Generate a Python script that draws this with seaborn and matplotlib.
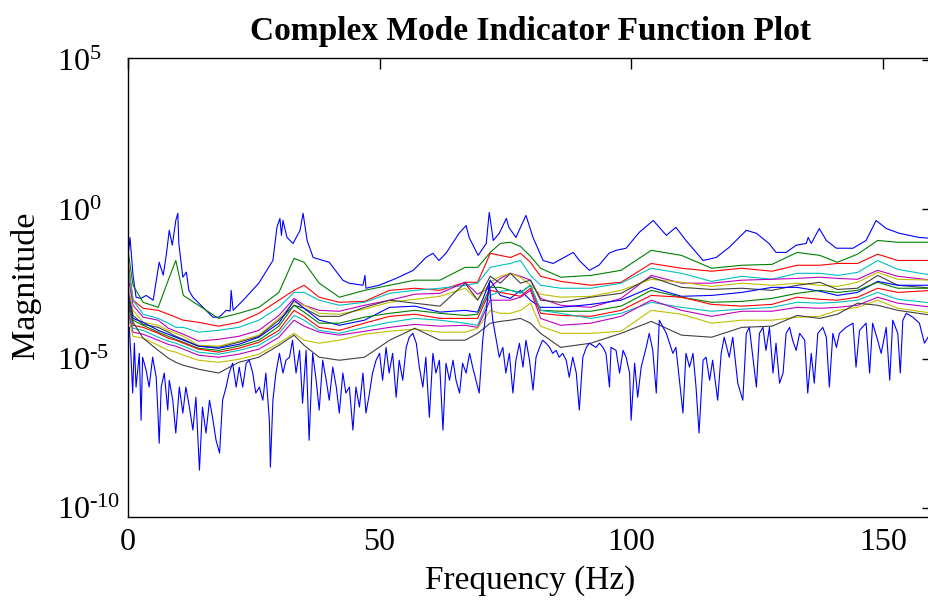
import numpy as np
import pandas as pd
import matplotlib
matplotlib.use("Agg")
import matplotlib.pyplot as plt
import seaborn as sns

# ---------------- data (frequency in Hz, magnitude as log10 exponent) ----------------
title = "Complex Mode Indicator Function Plot"
x_label = "Frequency (Hz)"
y_label = "Magnitude"
x_ticks = [0, 50, 100, 150]
y_tick_exponents = [-10, -5, 0, 5]

# first (largest) singular value
sv01_freq = [0.0, 0.4, 1.0, 1.6, 2.6, 3.6, 5.0, 6.2, 7.0, 7.6, 8.2, 8.8, 9.5, 9.9, 10.1, 10.9, 11.6, 12.1,
             12.9, 14.9, 16.9, 18.1, 19.5, 20.3, 20.5, 20.9, 22.9, 26.0, 28.8, 29.6, 30.2, 30.5, 30.8, 31.6,
             32.8, 34.2, 34.8, 35.6, 36.8, 40.0, 42.7, 43.9, 46.7, 47.1, 47.3, 49.9, 53.3, 56.7, 59.2, 60.6,
             61.8, 63.2, 65.8, 67.2, 67.8, 69.6, 71.2, 71.8, 72.6, 73.8, 75.2, 75.7, 77.1, 79.1, 80.5, 82.5,
             84.5, 88.5, 89.7, 91.7, 93.6, 95.6, 97.0, 99.0, 101.6, 104.4, 107.0, 108.9, 110.9, 114.3, 116.9,
             119.5, 122.9, 124.9, 127.4, 128.8, 130.8, 132.8, 134.8, 135.2, 135.8, 137.4, 138.8, 140.8, 144.1,
             146.7, 148.7, 150.7, 153.3, 157.3, 160.0]
sv01 = [-1.6, -0.94, -2.2, -2.94, -2.98, -2.88, -3.04, -1.77, -2.2, -1.54, -0.70, -1.2, -0.37, -0.13, -1.14,
        -2.27, -2.1, -2.71, -2.94, -3.28, -3.61, -3.61, -3.38, -3.4, -2.71, -3.38, -3.04, -2.47, -1.71, -0.6,
        -0.3, -0.87, -0.37, -0.94, -1.14, -0.70, -0.13, -1.04, -1.61, -1.77, -2.37, -2.47, -2.54, -2.21, -2.64,
        -2.54, -2.31, -2.04, -1.61, -1.47, -1.71, -1.47, -0.80, -0.54, -0.94, -1.54, -1.14, -0.10, -1.04, -0.80,
        -0.30, -0.6, -0.94, -0.20, -0.94, -1.71, -1.81, -1.44, -1.71, -2.04, -1.87, -1.47, -1.37, -1.30, -0.77,
        -0.37, -0.87, -0.60, -1.04, -1.71, -1.61, -1.27, -0.70, -0.80, -1.14, -1.44, -1.44, -1.20, -1.14, -0.94,
        -1.14, -0.64, -1.04, -1.30, -1.30, -1.04, -0.37, -0.64, -0.80, -0.94, -0.97]

# singular values 2..14 sampled on a shared frequency grid
freq_grid = [0, 1, 3, 6, 8, 9.5, 11, 14, 18, 22, 26, 30, 33, 35, 38, 42, 47, 52, 57, 62, 67, 69.5, 72, 74,
             76, 78, 80, 82, 86, 92, 98, 104, 110, 116, 122, 128, 133, 137.5, 141, 145, 149, 153, 160]
sv02 = [-1.37, -2.54, -3.11, -3.28, -2.37, -1.71, -2.88, -3.21, -3.65, -3.48, -3.28, -2.78, -1.64, -1.77, -2.47,
        -2.94, -2.71, -2.54, -2.37, -2.37, -1.94, -1.94, -1.44, -1.14, -1.10, -1.24, -1.57, -1.97, -2.27, -2.21,
        -2.04, -1.37, -1.54, -1.97, -1.87, -1.84, -1.44, -1.54, -1.77, -1.50, -1.04, -1.10, -1.10]
sv03 = [-1.71, -3.04, -3.31, -3.38, -3.51, -3.61, -3.71, -3.78, -3.91, -3.78, -3.48, -3.04, -2.71, -2.54, -2.94,
        -3.11, -3.08, -2.71, -2.64, -2.71, -2.44, -2.44, -1.47, -1.54, -1.61, -1.47, -1.77, -2.24, -2.41, -2.54,
        -2.44, -1.81, -1.97, -2.07, -1.97, -2.07, -1.87, -1.87, -1.81, -1.81, -1.50, -1.71, -1.71]
sv04 = [-1.87, -3.04, -3.51, -3.65, -3.81, -3.95, -3.95, -4.11, -4.05, -3.95, -3.71, -3.28, -2.78, -2.78, -3.04,
        -3.21, -3.11, -2.81, -2.71, -2.64, -2.54, -2.47, -1.94, -1.87, -1.81, -1.71, -2.21, -2.54, -2.64, -2.64,
        -2.47, -1.97, -2.14, -2.41, -2.24, -2.34, -2.14, -2.14, -2.21, -2.11, -1.71, -2.01, -2.21]
sv05 = [-2.21, -3.21, -3.61, -3.71, -3.98, -4.08, -4.18, -4.41, -4.35, -4.25, -4.05, -3.55, -2.98, -3.21, -3.38,
        -3.41, -3.21, -3.04, -2.84, -2.81, -2.44, -2.84, -2.61, -2.31, -2.14, -2.24, -2.37, -2.98, -3.21, -3.28,
        -2.98, -2.21, -2.47, -2.47, -2.37, -2.34, -2.31, -2.27, -2.31, -2.34, -2.04, -2.24, -2.37]
sv06 = [-2.54, -3.38, -3.78, -3.88, -4.05, -4.15, -4.25, -4.55, -4.58, -4.41, -4.21, -3.65, -3.11, -3.21, -3.48,
        -3.51, -3.34, -3.11, -3.01, -2.91, -2.64, -3.04, -2.44, -2.24, -2.14, -2.27, -2.54, -2.84, -2.94, -2.91,
        -2.71, -2.34, -2.44, -2.58, -2.47, -2.54, -2.47, -2.54, -2.58, -2.44, -2.11, -2.34, -2.37]
sv07 = [-2.71, -3.55, -3.85, -3.95, -4.11, -4.25, -4.35, -4.58, -4.62, -4.45, -4.25, -3.71, -3.21, -3.31, -3.58,
        -3.58, -3.28, -3.04, -3.14, -3.24, -2.47, -3.04, -2.24, -2.47, -2.14, -2.47, -2.37, -3.04, -3.11, -2.94,
        -2.81, -2.27, -2.61, -2.68, -2.64, -2.71, -2.54, -2.44, -2.68, -2.64, -2.21, -2.54, -2.64]
sv08 = [-2.88, -3.65, -3.78, -4.05, -4.18, -4.28, -4.38, -4.58, -4.65, -4.52, -4.28, -3.81, -3.04, -3.31, -3.71,
        -3.88, -3.71, -3.28, -3.24, -3.44, -3.38, -3.44, -2.37, -2.88, -2.98, -2.71, -3.04, -3.28, -3.28, -3.18,
        -3.04, -2.61, -2.91, -2.88, -2.78, -2.61, -2.61, -2.74, -2.88, -2.78, -2.41, -2.54, -2.54]
sv09 = [-3.04, -3.71, -3.88, -4.11, -4.25, -4.35, -4.45, -4.65, -4.72, -4.58, -4.38, -3.91, -3.21, -3.44, -3.81,
        -3.81, -3.61, -3.48, -3.38, -3.48, -3.55, -3.51, -2.61, -2.61, -2.71, -2.78, -2.54, -3.38, -3.41, -3.41,
        -3.24, -2.71, -2.94, -3.11, -3.08, -2.98, -2.81, -2.71, -2.78, -2.71, -2.44, -2.64, -2.64]
sv10 = [-3.21, -3.88, -3.95, -4.15, -4.31, -4.38, -4.48, -4.68, -4.78, -4.65, -4.45, -4.05, -3.38, -3.58, -3.95,
        -4.05, -3.81, -3.58, -3.51, -3.65, -3.65, -3.65, -2.71, -2.78, -2.84, -2.91, -2.64, -3.48, -3.55, -3.58,
        -3.38, -2.88, -2.94, -3.18, -3.24, -3.18, -2.94, -3.01, -3.04, -2.94, -2.64, -2.78, -2.71]
sv11 = [-3.31, -3.98, -4.05, -4.28, -4.41, -4.48, -4.58, -4.78, -4.85, -4.72, -4.55, -4.15, -3.55, -3.71, -4.05,
        -4.15, -3.95, -3.78, -3.65, -3.71, -3.81, -3.88, -2.88, -2.74, -2.71, -2.81, -2.54, -3.38, -3.48, -3.65,
        -3.48, -3.11, -3.28, -3.41, -3.34, -3.28, -3.11, -3.14, -3.11, -3.04, -2.78, -3.01, -3.14]
sv12 = [-3.44, -4.11, -4.18, -4.38, -4.52, -4.58, -4.68, -4.88, -4.95, -4.85, -4.68, -4.28, -3.71, -3.91, -4.11,
        -4.21, -4.08, -3.95, -3.85, -3.91, -3.88, -3.95, -3.04, -3.04, -3.04, -2.94, -2.71, -3.65, -3.88, -3.81,
        -3.58, -3.04, -3.38, -3.58, -3.41, -3.41, -3.28, -3.31, -3.28, -3.21, -2.94, -3.14, -3.28]
sv13 = [-3.58, -4.25, -4.31, -4.55, -4.72, -4.78, -4.88, -5.05, -5.12, -5.02, -4.85, -4.48, -4.15, -4.38, -4.48,
        -4.38, -4.18, -4.08, -4.01, -4.11, -4.11, -3.98, -3.38, -3.48, -3.48, -3.38, -3.14, -3.91, -4.15, -4.15,
        -4.08, -3.38, -3.51, -3.81, -3.71, -3.71, -3.61, -3.58, -3.38, -3.28, -3.04, -3.31, -3.48]
sv14 = [-3.04, -3.78, -4.31, -4.72, -4.98, -5.12, -5.22, -5.35, -5.48, -5.12, -4.95, -4.55, -4.21, -4.55, -4.95,
        -5.05, -4.95, -4.38, -3.98, -4.38, -4.38, -4.15, -3.81, -3.75, -3.71, -3.65, -3.81, -4.15, -4.62, -4.48,
        -4.15, -3.75, -4.21, -4.28, -3.95, -3.91, -3.55, -3.65, -3.51, -3.14, -3.21, -3.38, -3.55]

# smallest singular value (noisy)
sv15_freq = [0.26, 0.6, 0.93, 1.26, 1.6, 2.25, 2.6, 2.9, 3.6, 4.2, 4.9, 5.6, 5.9, 6.2, 6.6, 7.2, 7.9, 8.2, 8.9,
             9.5, 10.2, 10.9, 11.5, 12.2, 12.9, 13.5, 14.2, 14.8, 15.5, 16.2, 16.8, 17.5, 18.2, 18.8, 19.5, 20.1,
             20.8, 21.5, 22.1, 22.8, 23.5, 24.1, 24.8, 25.4, 26.1, 26.8, 27.4, 28.1, 28.3, 28.8, 29.4, 30.1, 30.8,
             31.4, 32.1, 32.7, 33.4, 34.1, 34.7, 35.4, 36.0, 36.7, 37.4, 38.0, 38.7, 39.4, 40.0, 40.7, 41.4, 42.0,
             42.7, 43.3, 44.0, 44.7, 45.3, 46.0, 46.7, 47.3, 48.0, 48.6, 49.3, 50.0, 50.6, 51.3, 51.9, 52.6, 53.3,
             53.9, 54.6, 55.3, 55.9, 56.6, 57.3, 57.9, 58.6, 59.2, 59.9, 60.6, 61.2, 61.9, 62.6, 63.2, 63.9, 64.6,
             65.2, 65.9, 66.5, 67.2, 67.9, 68.5, 69.8, 70.5, 71.2, 71.8, 72.5, 73.2, 73.8, 74.5, 75.1, 75.8, 76.5,
             77.1, 77.8, 78.5, 79.1, 79.8, 80.5, 81.1, 81.8, 82.4, 83.1, 83.8, 84.4, 85.1, 85.7, 86.4, 87.1, 87.7,
             88.4, 89.1, 89.7, 90.4, 91.1, 91.7, 93.0, 93.7, 94.4, 95.0, 95.7, 96.0, 97.0, 97.7, 98.4, 99.0, 99.7,
             100.0, 100.7, 101.3, 102.0, 103.0, 103.6, 104.3, 105.0, 105.6, 107.0, 108.3, 108.9, 110.3, 110.9,
             111.6, 112.3, 112.9, 113.5, 114.3, 114.9, 115.6, 116.2, 117.2, 117.9, 118.5, 119.5, 120.2, 121.2,
             122.2, 122.9, 123.5, 124.2, 124.9, 125.5, 126.2, 126.8, 127.5, 128.2, 128.8, 129.5, 130.2, 130.8,
             131.5, 132.1, 132.8, 133.5, 134.5, 135.1, 135.8, 136.4, 137.1, 138.1, 138.8, 139.4, 140.1, 140.8,
             141.4, 142.7, 144.1, 144.7, 145.4, 146.7, 147.4, 148.0, 149.0, 149.7, 150.7, 151.4, 152.0, 153.0,
             153.5, 154.0, 154.7, 156.0, 157.3, 158.3, 159.0, 160.0]
sv15 = [-3.95, -4.95, -6.15, -4.48, -5.95, -4.82, -7.06, -4.95, -5.38, -5.95, -4.95, -5.62, -6.62, -7.83, -5.95,
        -5.48, -6.72, -5.72, -6.39, -7.49, -5.95, -6.82, -5.95, -6.62, -7.39, -6.29, -8.73, -6.62, -7.49, -6.39,
        -6.96, -7.73, -8.16, -6.39, -5.95, -5.48, -5.15, -5.95, -5.28, -5.95, -5.15, -5.05, -5.48, -6.15, -5.95,
        -6.39, -5.48, -7.06, -8.63, -6.39, -5.48, -4.82, -5.48, -5.05, -4.95, -4.38, -5.48, -4.72, -6.49, -4.72,
        -7.73, -4.82, -5.72, -6.72, -5.05, -5.72, -6.39, -5.28, -5.95, -6.82, -5.48, -6.15, -5.95, -7.39, -5.95,
        -6.62, -5.48, -6.82, -6.15, -5.48, -5.05, -4.82, -5.72, -4.62, -5.48, -4.82, -6.29, -5.05, -5.72, -4.62,
        -4.28, -4.15, -4.48, -5.28, -5.95, -4.95, -6.96, -4.82, -5.48, -5.05, -7.39, -5.15, -5.72, -5.05, -5.72,
        -6.15, -5.15, -5.48, -4.82, -5.28, -6.15, -4.38, -3.38, -2.47, -3.71, -4.38, -4.95, -4.62, -5.48, -4.82,
        -6.15, -5.05, -4.48, -5.28, -4.38, -5.05, -6.05, -4.95, -4.62, -4.38, -4.48, -4.62, -4.82, -4.72, -4.95,
        -4.82, -5.05, -5.62, -4.95, -5.48, -6.72, -4.95, -4.62, -4.48, -4.62, -4.48, -4.62, -4.82, -5.95, -4.62,
        -4.72, -5.48, -4.72, -4.95, -5.48, -7.06, -5.15, -6.29, -5.28, -4.62, -4.15, -4.72, -6.15, -3.71, -4.15,
        -4.82, -4.62, -6.82, -4.82, -5.28, -4.82, -5.95, -7.49, -5.05, -4.95, -5.72, -5.05, -6.39, -4.82, -4.28,
        -4.95, -4.28, -5.82, -6.39, -4.15, -3.95, -4.95, -5.95, -4.15, -3.95, -4.72, -3.95, -5.48, -4.48, -5.82,
        -5.48, -4.15, -3.95, -4.38, -4.72, -4.15, -4.38, -6.15, -4.82, -5.82, -4.15, -3.95, -4.28, -5.95, -4.15,
        -4.62, -4.15, -3.95, -3.81, -5.28, -4.05, -3.81, -5.48, -3.81, -4.38, -4.82, -3.95, -5.72, -3.71, -4.15,
        -5.48, -3.71, -3.48, -3.61, -3.81, -4.48, -4.28, -4.15]

line_colors = ["#0000ff", "#008000", "#ff0000", "#00bfbf", "#bf00bf", "#bfbf00", "#404040",
               "#0000ff", "#008000", "#ff0000", "#00bfbf", "#bf00bf", "#bfbf00", "#404040", "#0000ff"]

# ---------------- assemble long-form table ----------------
grid_series = [sv02, sv03, sv04, sv05, sv06, sv07, sv08, sv09, sv10, sv11, sv12, sv13, sv14]
frames = [pd.DataFrame({"freq": sv01_freq, "logmag": sv01, "line": "SV01"})]
for i, s in enumerate(grid_series):
    frames.append(pd.DataFrame({"freq": freq_grid, "logmag": s, "line": f"SV{i + 2:02d}"}))
frames.append(pd.DataFrame({"freq": sv15_freq, "logmag": sv15, "line": "SV15"}))
df = pd.concat(frames, ignore_index=True)
df["mag"] = 10.0 ** df["logmag"]
order = [f"SV{i:02d}" for i in range(1, 16)]

# ---------------- style ----------------
sns.set_theme(style="white")
plt.rcParams["font.family"] = ["Liberation Serif", "DejaVu Serif"]
plt.rcParams["mathtext.fontset"] = "custom"
plt.rcParams["mathtext.rm"] = "Liberation Serif"
plt.rcParams["mathtext.it"] = "Liberation Serif:italic"
plt.rcParams["mathtext.bf"] = "Liberation Serif:bold"
plt.rcParams["axes.unicode_minus"] = False
for key in ["text.color", "axes.labelcolor", "xtick.color", "ytick.color", "axes.edgecolor"]:
    plt.rcParams[key] = "black"

fig = plt.figure(figsize=(9.29, 6.02), dpi=100)
ax = fig.add_axes([128 / 929, 85 / 602, 805 / 929, 459 / 602])

sns.lineplot(data=df, x="freq", y="mag", hue="line", hue_order=order, palette=line_colors,
             estimator=None, sort=False, legend=False, linewidth=0.8, ax=ax)

ax.set_yscale("log")
ax.set_xlim(0, 160)
ax.set_ylim(10 ** -10.3, 10 ** 5.07)
ax.set_xticks(x_ticks)
ax.set_yticks([10.0 ** e for e in y_tick_exponents])


def exp_label(e):
    txt = str(e)
    if txt.startswith("-"):
        txt = r"\text{-}" + txt[1:]
    return r"$10^{" + txt + "}$"


ax.set_yticklabels([exp_label(e) for e in y_tick_exponents])
ax.yaxis.set_minor_locator(matplotlib.ticker.NullLocator())
ax.tick_params(axis="x", which="major", direction="in", length=8, width=1.0,
               top=True, labelsize=23, colors="black", pad=8)
ax.tick_params(axis="y", which="major", direction="in", length=8, width=1.0,
               right=True, labelsize=23, colors="black", pad=51)
for lab in ax.get_yticklabels():
    lab.set_horizontalalignment("left")
for sp in ax.spines.values():
    sp.set_color("black")
    sp.set_linewidth(1.0)

ax.set_title(title, fontsize=24, fontweight="bold", pad=13, color="black")
ax.set_xlabel(x_label, fontsize=24, labelpad=6)
ax.set_ylabel(y_label, fontsize=24.5)
ax.yaxis.set_label_coords(-0.108, 0.505)

fig.savefig("out.png", dpi=100, facecolor="white")
